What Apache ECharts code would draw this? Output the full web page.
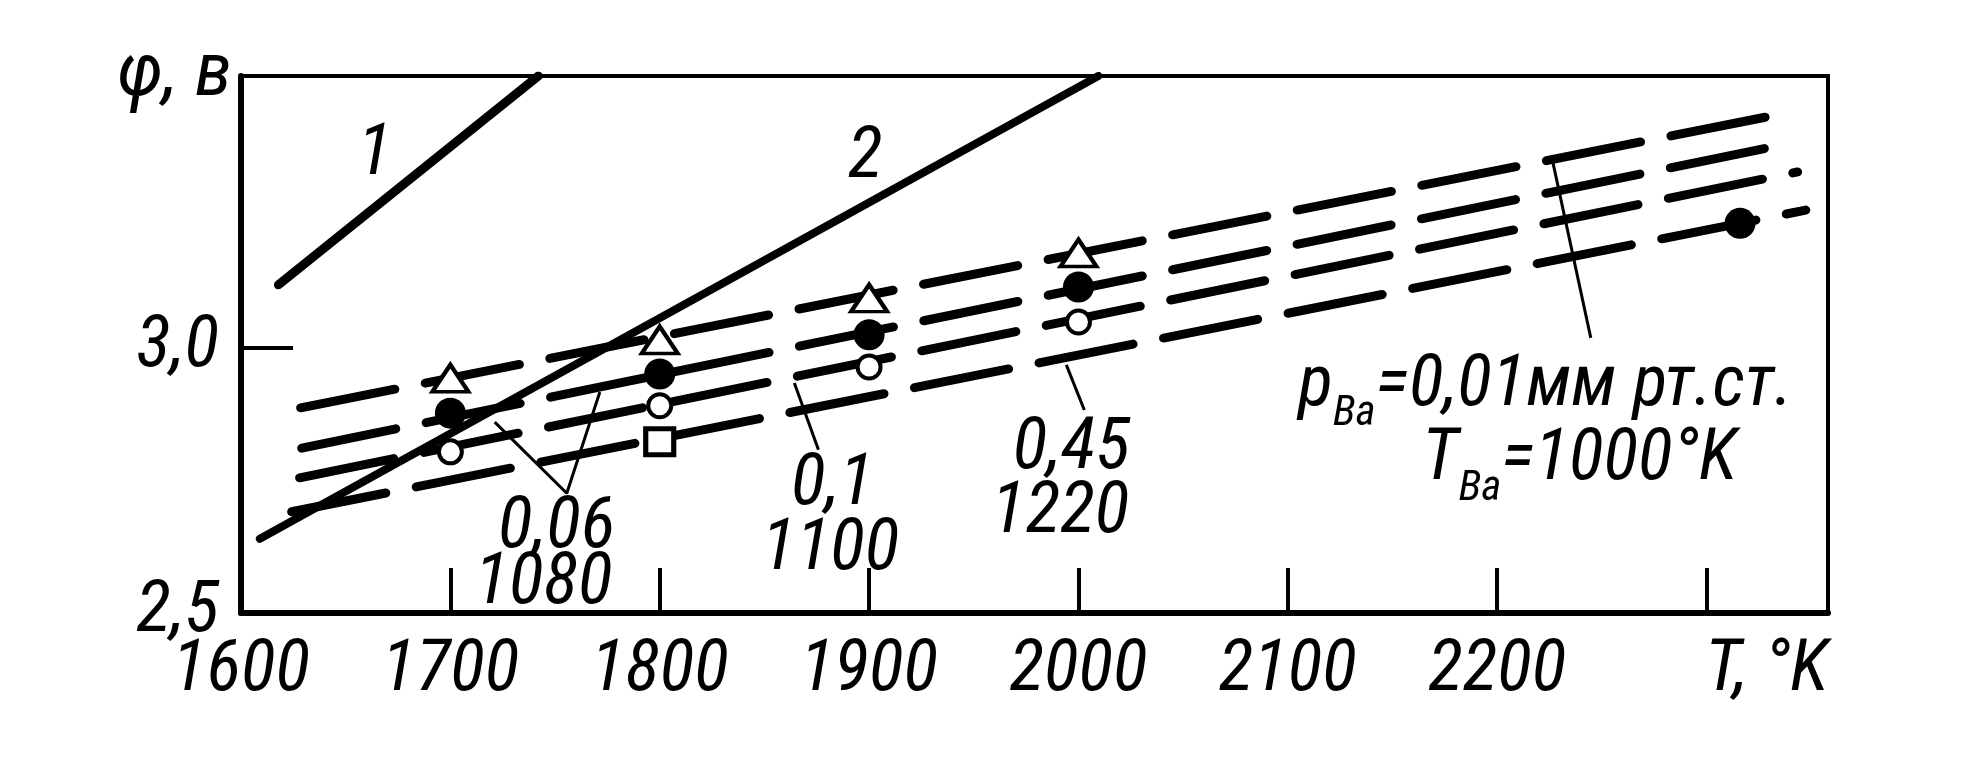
<!DOCTYPE html>
<html><head><meta charset="utf-8">
<script src="https://cdn.jsdelivr.net/npm/echarts@6/dist/echarts.min.js"></script>
<style>html,body{margin:0;padding:0;background:#fff}#c{width:1961px;height:757px}</style>
</head><body><div id="c"></div>
<script>
// ---- data ----
const xTicks = [1600, 1700, 1800, 1900, 2000, 2100, 2200, 2300];
const xTickLabels = ['1600', '1700', '1800', '1900', '2000', '2100', '2200', 'T, °K'];
const yTicks = [2.5, 3.0];
const yTickLabels = ['2,5', '3,0'];
const yName = 'φ, в';

const curve1 = [[1617.9, 3.119], [1742.0, 3.513]];
const curve2 = [[1609.0, 2.640], [2009.5, 3.513]];
const dashA = [[1628.5, 2.887], [2337.9, 3.443]]; // 0,01 / 1000
const dashB = [[1629.0, 2.811], [2341.1, 3.387]]; // 0,06 / 1080
const dashC = [[1628.0, 2.755], [2343.5, 3.332]]; // 0,1 / 1100
const dashD = [[1624.2, 2.691], [2347.4, 3.260]]; // 0,45 / 1220

const triangles = [[1700, 2.943], [1800, 3.015], [1900, 3.094], [2000, 3.179]];
const filledCircles = [[1700, 2.877], [1800, 2.951], [1900, 3.025], [2000, 3.115], [2316, 3.235]];
const openCircles = [[1700, 2.804], [1800, 2.891], [1900, 2.964], [2000, 3.049]];
const squares = [[1800, 2.823]];

const annText = ['1', '2', '0,06', '1080', '0,1', '1100', '0,45', '1220'];
const annX = [1663.9, 1898.2, 1750.7, 1744.5, 1882.5, 1881.5, 1996.6, 1991.3];
const annY = [3.368, 3.362, 2.664, 2.558, 2.745, 2.623, 2.813, 2.692];

const leader006 = [[1721.2, 2.860], [1755.6, 2.726], [1771.4, 2.917]];
const leader01 = [[1864.3, 2.934], [1875.8, 2.808]];
const leader045 = [[1994.2, 2.968], [2002.8, 2.883]];
const leaderP = [[2226.6, 3.350], [2244.7, 3.019]];

const pLabelPos = [2105.0, 2.995];
const tLabelPos = [2164.1, 2.854];

// ---- font choice: prefer a narrow face if installed ----
function hasFont(name) {
  const c = document.createElement('canvas').getContext('2d');
  const probe = '1600 φ, в мм рт.ст.';
  c.font = 'italic 72px monospace';
  const base = c.measureText(probe).width;
  c.font = 'italic 72px "' + name + '", monospace';
  return Math.abs(c.measureText(probe).width - base) > 0.5;
}
const narrowCandidates = ['Liberation Sans Narrow', 'Roboto Condensed', 'Open Sans Condensed', 'Noto Sans Condensed'];
let FONT = '"DejaVu Sans Condensed", sans-serif';
let S = 64, SP = 60;
for (const f of narrowCandidates) {
  if (hasFont(f)) { FONT = '"' + f + '", "DejaVu Sans Condensed", sans-serif'; S = 72; SP = 72; break; }
}

// ---- chart ----
const chart = echarts.init(document.getElementById('c'), null, {renderer: 'canvas'});
const txt = (size) => ({fontFamily: FONT, fontStyle: 'italic', fontSize: size, color: '#000'});

function dashed(data) {
  return {type: 'line', data, symbol: 'none', z: 2, silent: true,
    lineStyle: {color: '#000', width: 9, type: [96, 31], cap: 'round'}};
}
function solid(data, w) {
  return {type: 'line', data, symbol: 'none', z: 2, silent: true,
    lineStyle: {color: '#000', width: w, cap: 'round', join: 'round'}};
}
function thin(data) {
  return {type: 'line', data, symbol: 'none', z: 2, silent: true,
    lineStyle: {color: '#000', width: 3}};
}
function markers(data, symbol, size, fill, bw) {
  return {type: 'scatter', data, symbol, symbolSize: size, z: 5, silent: true,
    itemStyle: {color: fill, borderColor: '#000', borderWidth: bw, opacity: 1}};
}
function textSeries(data, label) {
  return {type: 'scatter', z: 6, silent: true, symbolSize: 1,
    itemStyle: {color: 'transparent', opacity: 1}, data, label};
}

const main = Object.assign(txt(SP), {verticalAlign: 'top', lineHeight: 70});
const sub = Object.assign(txt(Math.round(SP * 0.6)), {verticalAlign: 'top', lineHeight: 40, padding: [42, 0, 0, 0]});

const option = {
  backgroundColor: '#fff',
  animation: false,
  grid: {left: 241, right: 133, top: 76, bottom: 144, show: true, borderColor: '#000', borderWidth: 4,
    outerBoundsMode: 'none', containLabel: false},
  xAxis: {
    type: 'value', min: 1600, max: 2358, interval: 100,
    splitLine: {show: false},
    axisLine: {lineStyle: {color: '#000', width: 6}},
    axisTick: {inside: true, length: 45, lineStyle: {color: '#000', width: 4}, customValues: xTicks},
    axisLabel: Object.assign(txt(S), {margin: 23, showMinLabel: true, showMaxLabel: true,
      customValues: xTicks,
      formatter: (v) => {
        const i = xTicks.indexOf(Math.round(v));
        if (i < 0) return '';
        const s = xTickLabels[i];
        return i === xTicks.length - 1 ? '{t|' + s + '}' : s;
      },
      rich: {t: Object.assign(txt(S), {padding: [0, 0, 0, 120]})}
    })
  },
  yAxis: {
    type: 'value', min: 2.5, max: 3.513, interval: 0.5,
    splitLine: {show: false},
    axisLine: {lineStyle: {color: '#000', width: 6}},
    axisTick: {inside: true, length: 52, lineStyle: {color: '#000', width: 4}, customValues: yTicks},
    axisLabel: Object.assign(txt(S), {margin: 22, customValues: yTicks,
      formatter: (v) => {
        const i = yTicks.findIndex(t => Math.abs(t - v) < 1e-6);
        return i < 0 ? '' : yTickLabels[i];
      }}),
    name: yName, nameLocation: 'end', nameGap: 0,
    nameTextStyle: Object.assign(txt(S + 4), {align: 'right', verticalAlign: 'middle', padding: [0, 9, 0, 0]})
  },
  series: [
    solid(curve1, 9), solid(curve2, 8),
    dashed(dashA), dashed(dashB), dashed(dashC), dashed(dashD),
    thin(leader006), thin(leader01), thin(leader045), thin(leaderP),
    markers(triangles, 'triangle', [36, 27], '#fff', 4),
    markers(filledCircles, 'circle', 31, '#000', 0),
    markers(openCircles, 'circle', 23, '#fff', 4),
    markers(squares, 'rect', [28, 26], '#fff', 5),
    textSeries(annText.map((t, i) => ({value: [annX[i], annY[i]], name: t})),
      Object.assign(txt(S), {show: true, position: 'inside', formatter: '{b}', offset: [0, 3]})),
    textSeries([{value: pLabelPos, name: 'p'}],
      {show: true, position: 'inside', align: 'left', verticalAlign: 'top',
        formatter: '{m|p}{s|Ba}{m|=0,01мм рт.ст.}', rich: {m: main, s: sub}}),
    textSeries([{value: tLabelPos, name: 'T'}],
      {show: true, position: 'inside', align: 'left', verticalAlign: 'top',
        formatter: '{m|T}{s|Ba}{m|=1000°K}', rich: {m: main, s: sub}})
  ]
};
chart.setOption(option);
</script>
</body></html>
